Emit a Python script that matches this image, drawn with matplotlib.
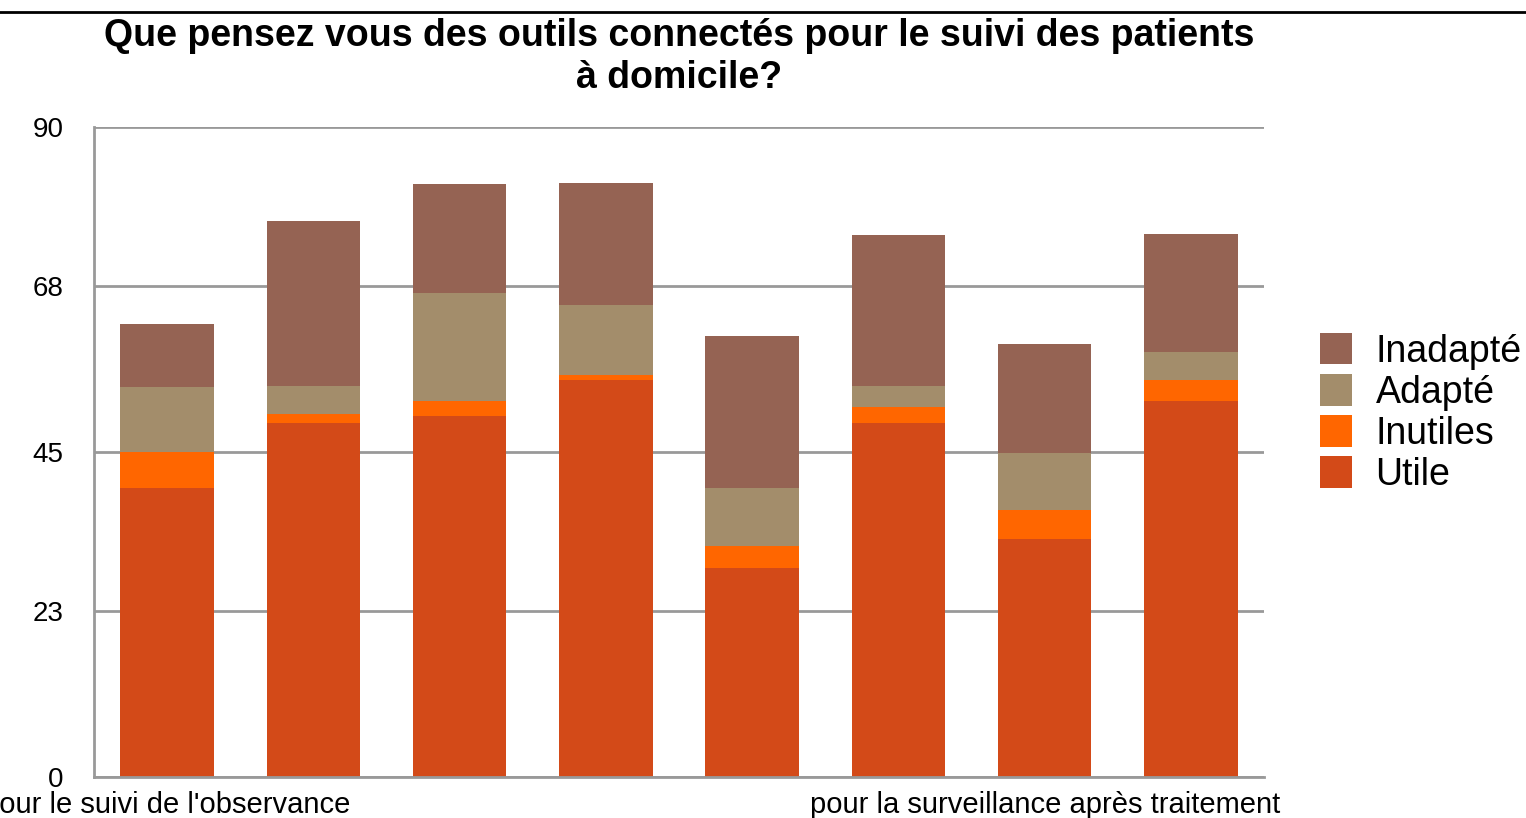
import matplotlib.pyplot as plt
import numpy as np
from matplotlib.lines import Line2D

plt.rcParams["font.family"] = ["Liberation Sans", "DejaVu Sans"]

# Data
categories = [
    "pour le suivi de l'observance", "", "", "", "", "",
    "pour la surveillance après traitement", "",
]
utile = [40, 49, 50, 55, 29, 49, 33, 52]
inutiles = [5, 1.2, 2, 0.7, 3, 2.2, 4, 3]
adapte = [9, 4, 15, 9.6, 8, 3, 7.8, 3.9]
inadapte = [8.7, 22.8, 15.1, 16.9, 21, 20.9, 15.1, 16.3]

series = [
    ("Utile", utile, "#d34a18"),
    ("Inutiles", inutiles, "#ff6600"),
    ("Adapté", adapte, "#a38d6b"),
    ("Inadapté", inadapte, "#956353"),
]
yticks = [0, 23, 45, 68, 90]

fig = plt.figure(figsize=(15.26, 8.18), dpi=100)
ax = fig.add_axes([94 / 1526, 1 - 777 / 818, 1170 / 1526, 650 / 818])

x = np.arange(len(categories))
bottom = np.zeros(len(categories))
handles = []
for name, vals, color in series:
    bars = ax.bar(x, vals, width=0.64, bottom=bottom, color=color,
                  label=name, zorder=3)
    handles.append(bars)
    bottom += np.array(vals)

ax.set_xlim(-0.5, len(categories) - 0.5)
ax.set_ylim(0, 90)
ax.set_yticks(yticks)
ax.set_yticklabels([str(t) for t in yticks])
ax.set_xticks(x)
ax.set_xticklabels(categories)
ax.tick_params(axis="y", length=0, pad=22, labelsize=20)
ax.tick_params(axis="x", length=0, pad=10, labelsize=21)

# grey gridlines and axes
ax.grid(axis="y", color="#999999", linewidth=2, zorder=0)
ax.grid(axis="x", visible=False)
for side in ("top", "right"):
    ax.spines[side].set_visible(False)
for side in ("left", "bottom"):
    ax.spines[side].set_color("#999999")
    ax.spines[side].set_linewidth(2)
    ax.spines[side].set_zorder(4)

ax.set_title(
    "Que pensez vous des outils connectés pour le suivi des patients\n"
    "à domicile?",
    fontsize=27, fontweight="bold", pad=28, linespacing=1.22,
)

ax.legend(
    handles[::-1], [s[0] for s in series][::-1],
    loc="center left",
    bbox_to_anchor=(1320 / 1526, 1 - 413 / 818),
    bbox_transform=fig.transFigure,
    frameon=False, fontsize=27,
    borderpad=0, borderaxespad=0,
    handlelength=0.86, handleheight=0.92, handletextpad=0.62,
    labelspacing=0.12,
)

# thin black rule across the top of the image
fig.add_artist(Line2D([0, 1], [1 - 12 / 818, 1 - 12 / 818],
                      transform=fig.transFigure, color="black", linewidth=2))

fig.savefig("out.png", dpi=100)
